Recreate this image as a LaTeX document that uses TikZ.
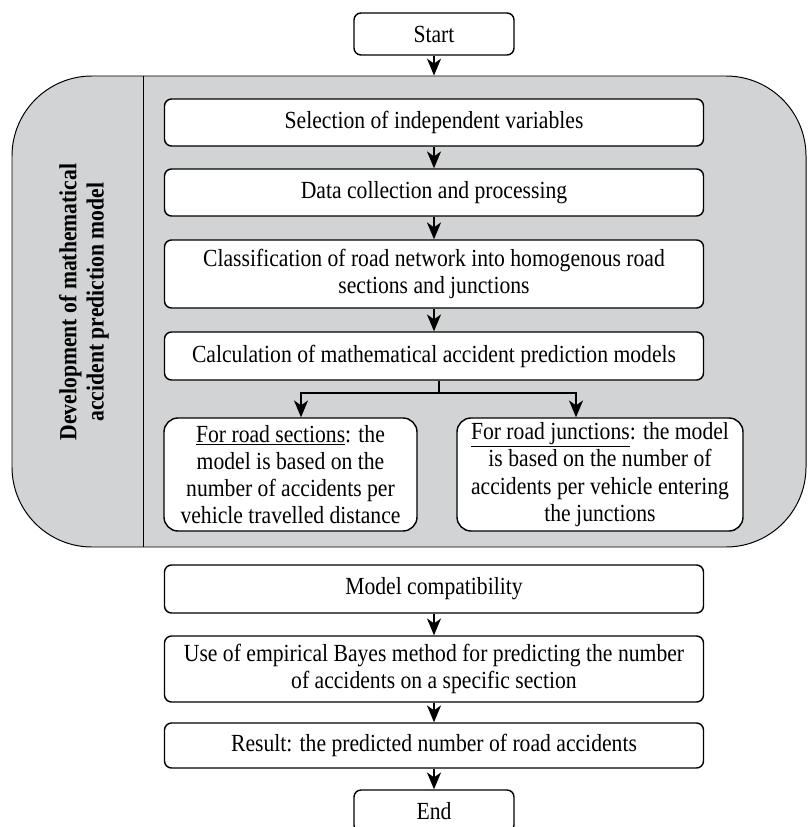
\documentclass[tikz,border=0pt]{standalone}
\usepackage{fontspec}
\setmainfont[FakeStretch=0.88]{Liberation Serif}
\usetikzlibrary{arrows.meta}
\definecolor{panelgray}{RGB}{209,211,212}
\tikzset{every node/.style={draw=none,inner sep=0pt,align=center}}
\tikzset{b/.style={rectangle,draw,fill=white,rounded corners=5pt,minimum width=13.475cm,minimum height=1.175cm}}
\tikzset{e/.style={b,minimum width=4cm,minimum height=1.05cm}}
\tikzset{c/.style={b,rounded corners=10pt,minimum height=2.825cm}}

\begin{document}
\fontsize{17.5}{19.4}\selectfont
\begin{tikzpicture}[>={Stealth[length=12pt,width=10pt,inset=3.5pt]},line width=1pt]
      \useasboundingbox (0,0) rectangle (20.175,-20.675);
      \node[draw,fill=panelgray,line width=0.7pt,rounded corners=2cm,minimum width=19.85cm,minimum height=11.775cm] (panel) at (10.225,-7.7875) {};
      \draw[line width=0.7pt] (3.575,-1.9) -- (3.575,-13.675);
      \node[rotate=90,font=\bfseries] (dev) at (2.1,-7.55) {Development of mathematical\\accident prediction model};
      \node[e] (start) at (10.85,-0.85) {Start};
      \node[b] (sel) at (10.85,-3.0625) {Selection of independent variables};
      \node[b] (data) at (10.85,-4.8125) {Data collection and processing};
      \node[b,minimum height=1.7cm] (cls) at (10.85,-6.85) {Classification of road network into homogenous road\\sections and junctions};
      \node[b,minimum height=1.2cm] (calc) at (10.85,-8.9) {Calculation of mathematical accident prediction models};
      \node[c,minimum width=6.325cm] (sec) at (7.2625,-11.8625) {\underline{For road sections}: the\\model is based on the\\number of accidents per\\vehicle travelled distance};
      \node[c,minimum width=7.15cm] (jun) at (15,-11.8625) {\underline{For road junctions}: the model\\is based on the number of\\accidents per vehicle entering\\the junctions};
      \node[b,minimum height=1.2cm] (comp) at (10.85,-14.725) {Model compatibility};
      \node[b,minimum height=1.65cm] (bayes) at (10.85,-16.725) {Use of empirical Bayes method for predicting the number\\of accidents on a specific section};
      \node[b,minimum height=1.125cm] (res) at (10.85,-18.6375) {Result: the predicted number of road accidents};
      \node[e] (end) at (10.85,-20.275) {End};
      \coordinate (fk) at (10.975,-9.825);
      \coordinate (fl) at (7.525,-9.825);
      \coordinate (fr) at (14.4,-9.825);
        \draw[->] (start) -- (start |- panel.north);
        \draw[->] (sel) -- (data);
        \draw[->] (data) -- (cls);
        \draw[->] (cls) -- (calc);
        \draw (calc.south -| fk) -- (fk);
        \draw[->] (fk) -| (fl |- sec.north);
        \draw[->] (fk) -| (fr |- jun.north);
        \draw[->] (comp) -- (bayes);
        \draw[->] (bayes) -- (res);
        \draw[->] (res) -- (end);
    \end{tikzpicture}
\end{document}
